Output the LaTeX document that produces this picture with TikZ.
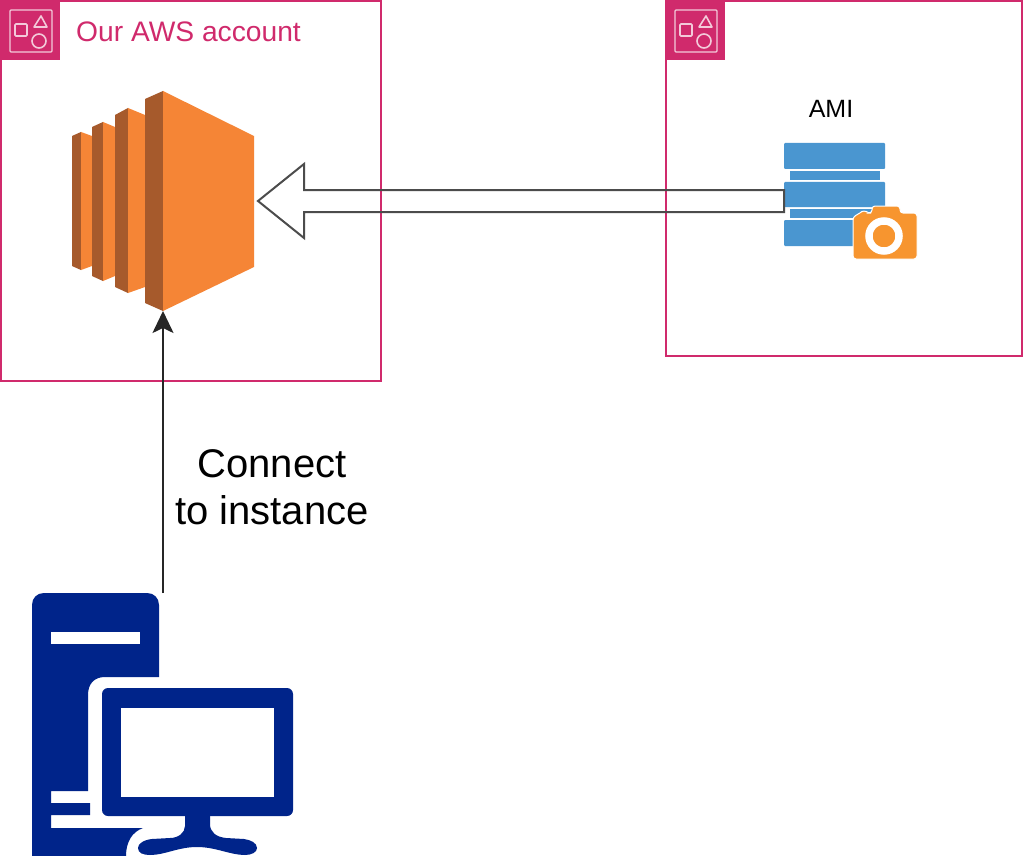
\documentclass[tikz,border=0pt]{standalone}
\usepackage{fontspec}
\setmainfont{Liberation Sans}
\usetikzlibrary{arrows.meta,calc}
\definecolor{awspink}{HTML}{D02A6C}
\definecolor{ec2light}{HTML}{F58536}
\definecolor{ec2dark}{HTML}{A65A2C}
\definecolor{amiblue}{HTML}{4A96D0}
\definecolor{camorange}{HTML}{F7952F}
\definecolor{pcblue}{HTML}{00248A}
\begin{document}
\begin{tikzpicture}[
  x=1pt,y=-1pt,
  groupbox/.style={draw=awspink,line width=2pt},
  grouphead/.style={fill=awspink},
  groupicon/.pic={
    \fill[grouphead] (0,0) rectangle (60,60);
    \draw[white!75!awspink,line width=1.3pt,rounded corners=1pt] (10,10) rectangle (52,52);
    \draw[white!75!awspink,line width=1.6pt,rounded corners=1pt] (15,24) rectangle (27,36);
    \draw[white!75!awspink,line width=1.6pt,line join=round] (41,16)--(34,27)--(47,27)--cycle;
    \draw[white!75!awspink,line width=1.6pt] (39,41) circle (7);
  },
  anchorbox/.style={rectangle,inner sep=0pt,outer sep=0pt},
  arr/.style={-{Stealth[length=22pt,width=21pt,inset=5pt]},line width=2pt,black!85},
  blockarr/.style={draw=black!70,line width=2pt,line join=miter},
  grouptext/.style={text=awspink,font=\fontsize{28.2}{32}\selectfont,anchor=west,inner sep=0pt},
  amitext/.style={font=\fontsize{25}{29}\selectfont,inner sep=0pt},
  conntext/.style={font=\fontsize{40}{47}\selectfont,align=center,inner sep=0pt}
]
\useasboundingbox (0,0) rectangle (1023,856);
\fill[white] (0,0) rectangle (1023,856);
% groups
\draw[groupbox] (1,1) rectangle (381,381);
\draw[groupbox] (666,1) rectangle (1022,356);
\pic at (0,0) {groupicon};
\pic at (665,0) {groupicon};
\node[grouptext] (acct) at (76,32) {Our AWS account};
% instance
\node[anchorbox,minimum width=182pt,minimum height=220pt] (ec2) at (163,201) {};
\fill[ec2dark] (72,136)--(81,132)--(81,270)--(72,266)--cycle;
\fill[ec2light] (81,132)--(92,136)--(92,266)--(81,270)--cycle;
\fill[ec2dark] (92,127)--(103,122)--(103,281)--(92,276)--cycle;
\fill[ec2light] (103,122)--(115,127)--(115,276)--(103,281)--cycle;
\fill[ec2dark] (115,115)--(128,108)--(128,293)--(115,287)--cycle;
\fill[ec2light] (128,108)--(145,115)--(145,287)--(128,293)--cycle;
\fill[ec2dark] (145,99)--(163,91)--(163,311)--(145,303)--cycle;
\fill[ec2light] (163,91)--(254,136)--(254,267)--(163,311)--cycle;
% image
\node[amitext] (amilabel) at (831,109) {AMI};
\node[anchorbox,minimum width=133pt,minimum height=116pt] (ami) at (850.5,201) {};
\fill[amiblue,rounded corners=1pt] (784,143) rectangle (885,169);
\fill[amiblue] (790,171) rectangle (880,180);
\fill[amiblue,rounded corners=1pt] (784,182) rectangle (885,207);
\fill[amiblue] (790,208.5) rectangle (880,218);
\fill[amiblue,rounded corners=1pt] (784,220) rectangle (885,246);
\fill[camorange,rounded corners=3pt,draw=white,line width=1pt] (853,259)--(853,217)--(860,213)--(864,210)--(868,213)--(872,213)--(872,206)--(900,206)--(900,213)--(917,213)--(917,259)--cycle;
\draw[white,line width=7.5pt] (884,236) circle (15);
\fill[camorange] (884,236) circle (11);
% pc
\node[anchorbox,minimum width=260pt,minimum height=263pt] (pc) at (163,724.5) {};
\fill[pcblue] (32,856)--(32,605) .. controls (32,598) and (37,593) .. (44,593)--(147,593) .. controls (154,593) and (159,598) .. (159,605)--(159,677)--(105,677)
  .. controls (94,677) and (88,684) .. (88,695)--(88,791)--(51,791)--(51,803)--(90,803)--(90,815)--(51,815)--(51,828)--(143,828)
  .. controls (132,832) and (126,842) .. (126,856)--cycle;
\fill[pcblue,rounded corners=6pt] (102,688) rectangle (293,816);
\fill[white] (121,708) rectangle (274,797);
\fill[white] (51,632) rectangle (140,644);
\fill[pcblue] (185,814)--(185,826) .. controls (185,833) and (178,838) .. (170,838)--(152,839)
  .. controls (143,840) and (138,844) .. (138,848) .. controls (138,853) and (143,855) .. (150,855)
  .. controls (165,855) and (178,847) .. (197,847) .. controls (216,847) and (230,855) .. (245,855)
  .. controls (252,855) and (257,852) .. (257,848) .. controls (257,843) and (251,840) .. (244,839)--(226,838)
  .. controls (216,837) and (210,832) .. (210,824)--(210,814)--cycle;
% connectors
\draw[arr] (pc.north)--(ec2.south);
\node[conntext] (conn) at (272,487.5) {Connect\\to instance};
\draw[blockarr] ($(ec2.east)+(4,0)$)--++(46,-37)--++(0,26)--($(ami.west)+(0,-11)$)--($(ami.west)+(0,11)$)--($(ec2.east)+(50,11)$)--++(0,26)--cycle;
\end{tikzpicture}
\end{document}
